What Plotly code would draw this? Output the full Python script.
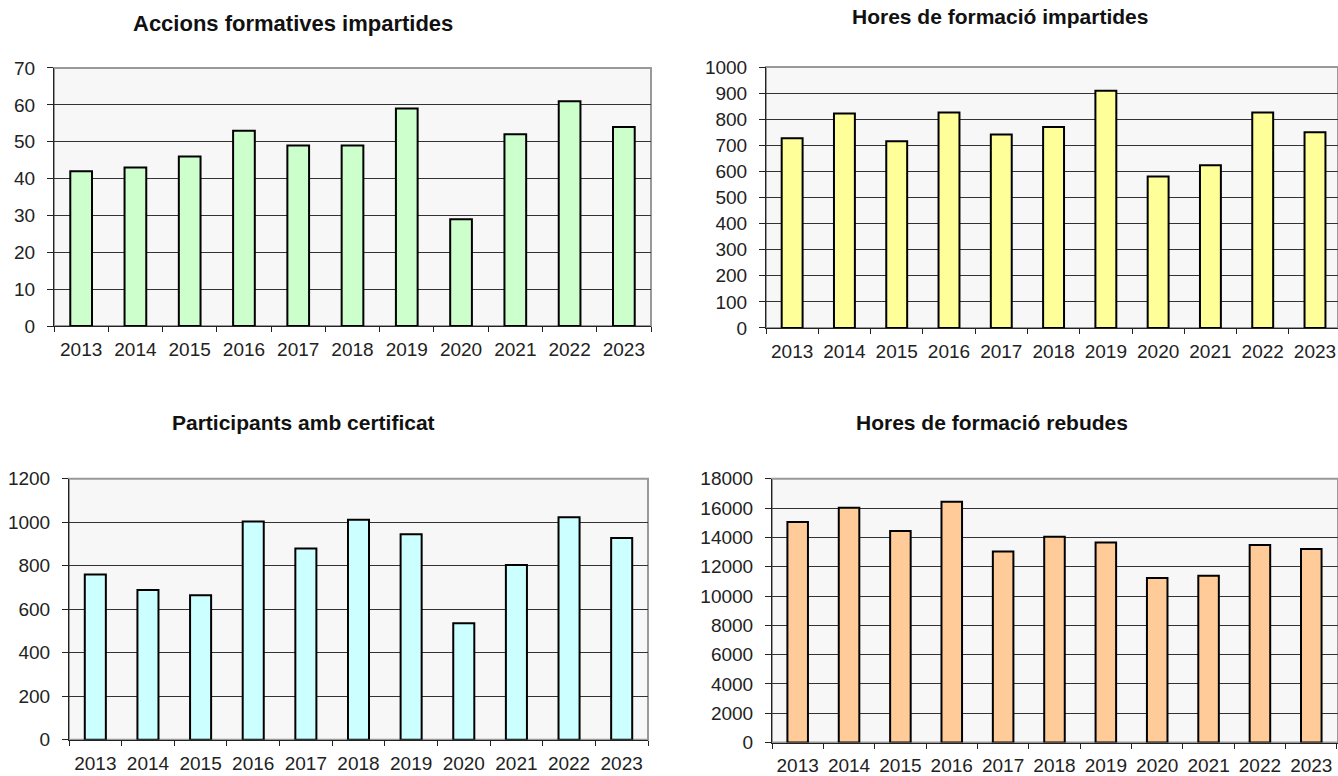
import plotly.graph_objects as go

years = ["2013", "2014", "2015", "2016", "2017", "2018", "2019", "2020", "2021", "2022", "2023"]

accions = [42, 43, 46, 53, 49, 49, 59, 29, 52, 61, 54]
hores_impartides = [727, 822, 716, 826, 741, 770, 909, 580, 624, 826, 750]
participants = [760, 688, 664, 1003, 879, 1012, 945, 536, 803, 1023, 927]
hores_rebudes = [15045, 16018, 14434, 16425, 13032, 14050, 13643, 11222, 11380, 13484, 13213]

titles = ["Accions formatives impartides", "Hores de formació impartides",
          "Participants amb certificat", "Hores de formació rebudes"]
colors = ["#CCFFCC", "#FFFF99", "#CCFFFF", "#FFCC99"]
series = [accions, hores_impartides, participants, hores_rebudes]
yranges = [(0, 70, 10), (0, 1000, 100), (0, 1200, 200), (0, 18000, 2000)]

W, H = 1338, 776
# plot areas in pixels: (left, right, top, bottom)
areas = [(54, 651, 60, 327), (766, 1338, 59, 329), (69, 648, 485, 755), (772, 1338, 485, 758)]
xmax = [10.5, 10.44, 10.5, 10.52]
title_pos = [(293, 14), (1000, 7), (303, 427), (992, 427)]
title_sizes = [22, 21, 21, 21]

FONT = "Liberation Sans, Arial, sans-serif"
fig = go.Figure()
layout = dict(margin=dict(l=0, r=0, t=0, b=0, pad=0), autosize=True,
              paper_bgcolor="white", plot_bgcolor="#F7F7F7", showlegend=False,
              font=dict(family=FONT, color="#111"))
annotations = []
shapes = []
for i in range(4):
    ax = "" if i == 0 else str(i + 1)
    l, r, t, b = areas[i]
    fig.add_trace(go.Bar(x=years, y=series[i], xaxis="x" + ax, yaxis="y" + ax,
                         marker=dict(color=colors[i], line=dict(color="black", width=2)),
                         width=0.4, hoverinfo="x+y"))
    y0, y1, dt = yranges[i]
    layout["xaxis" + ax] = dict(domain=[l / W, r / W], anchor="y" + ax, type="category",
                                range=[-0.5, xmax[i]], showline=True, linecolor="#222", linewidth=1,
                                ticks="outside", tickson="boundaries", ticklen=5, tickcolor="#222",
                                showgrid=False, tickfont=dict(size=19, color="#222"), tickangle=0,
                                ticklabelstandoff=6, fixedrange=True)
    layout["yaxis" + ax] = dict(domain=[1 - b / H, 1 - t / H], anchor="x" + ax,
                                range=[y0, y1], dtick=dt, tick0=0, tickformat="d",
                                showline=True, linecolor="#222",
                                linewidth=1, ticks="outside", ticklen=6, tickcolor="#222",
                                showgrid=True, gridcolor="#333", gridwidth=1, zeroline=False,
                                tickfont=dict(size=19, color="#222"), ticklabelstandoff=8,
                                fixedrange=True)
    shapes.append(dict(type="rect", xref="x" + ax + " domain", yref="y" + ax + " domain",
                       x0=0, x1=1, y0=0, y1=1, line=dict(color="#999", width=2), layer="below"))
    tx, ty = title_pos[i]
    annotations.append(dict(text="<b>" + titles[i] + "</b>", xref="paper", yref="paper",
                            x=tx / W, y=1 - ty / H, xanchor="center", yanchor="middle",
                            showarrow=False,
                            font=dict(size=title_sizes[i], color="#111", family=FONT)))
layout["annotations"] = annotations
layout["shapes"] = shapes
fig.update_layout(**layout)
fig.write_html("out.html", default_width="100vw", default_height="100vh",
               config={"displayModeBar": False, "responsive": True},
               post_script=("document.documentElement.style.margin='0';"
                            "document.body.style.margin='0';"
                            "document.documentElement.style.overflow='hidden';"
                            "document.body.style.overflow='hidden';"
                            "Plotly.Plots.resize(document.getElementById('{plot_id}'));"))
